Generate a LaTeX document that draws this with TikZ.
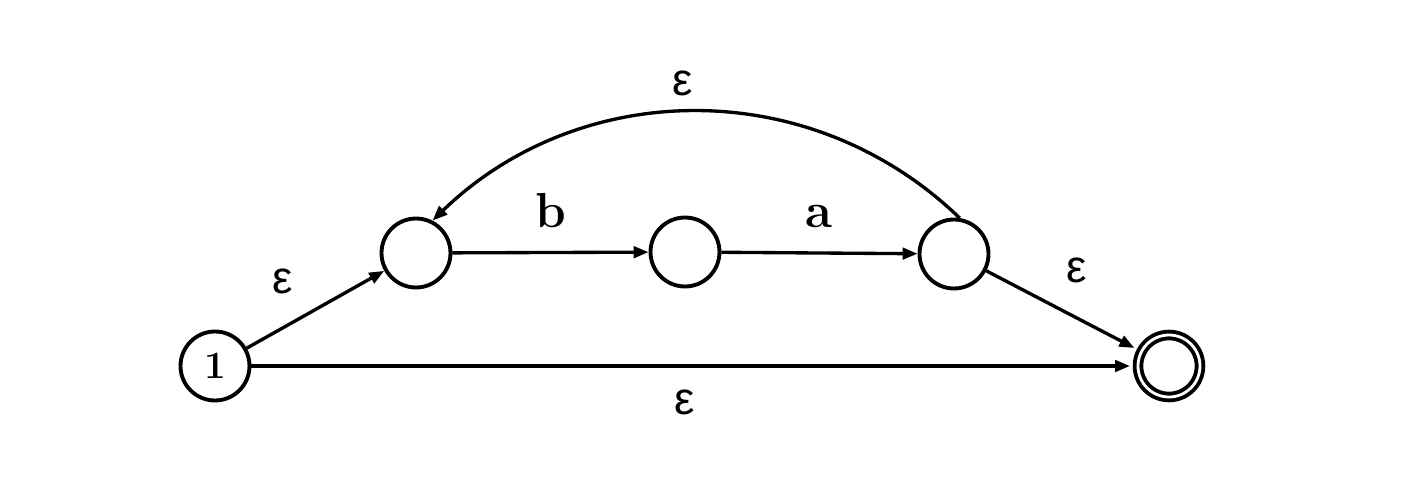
\documentclass[tikz,border=0pt]{standalone}
\usepackage{fontspec}
\newfontfamily\epsfont{Liberation Sans}
\usetikzlibrary{arrows.meta}
\tikzset{
  state/.style={circle, draw, line width=2.2pt, minimum size=1.38cm, inner sep=0pt},
  accept/.style={circle, draw, line width=2.2pt, double, double distance=1.6pt, minimum size=1.24cm, inner sep=0pt, outer sep=0.16cm},
  trans/.style={line width=1.9pt, -{Triangle[length=0.3cm,width=0.23cm]}},
  eps/.style={font=\epsfont\fontsize{26}{30}\selectfont, inner sep=0pt},
  sym/.style={font=\bfseries\fontsize{28}{32}\selectfont, inner sep=0pt, anchor=base},
}
\begin{document}
\begin{tikzpicture}[x=0.02cm, y=0.02cm]
\useasboundingbox (0,0) rectangle (1401,495);
\node[state, font=\bfseries\fontsize{22}{26}\selectfont] (n1) at (215,129) {1};
\node[state] (q1) at (416,242) {};
\node[state] (q2) at (685,243) {};
\node[state] (q3) at (954,241) {};
\node[accept] (f) at (1169,129) {};

\draw[trans] (n1) -- (q1);
\draw[trans] (q1) -- (q2);
\draw[trans] (q2) -- (q3);
\draw[trans] (q3) -- (f);
\draw[trans] (n1) -- (f);
\draw[trans] (q3.81) to[out=136, in=44] (q1.63);

\node[eps] (l1) at (283,214) {ε};
\node[sym] (lb) at (551,268) {b};
\node[sym] (la) at (819,268) {a};
\node[eps] (l3) at (1077,225) {ε};
\node[eps] (l4) at (685,93) {ε};
\node[eps] (l5) at (683,412) {ε};
\end{tikzpicture}
\end{document}
